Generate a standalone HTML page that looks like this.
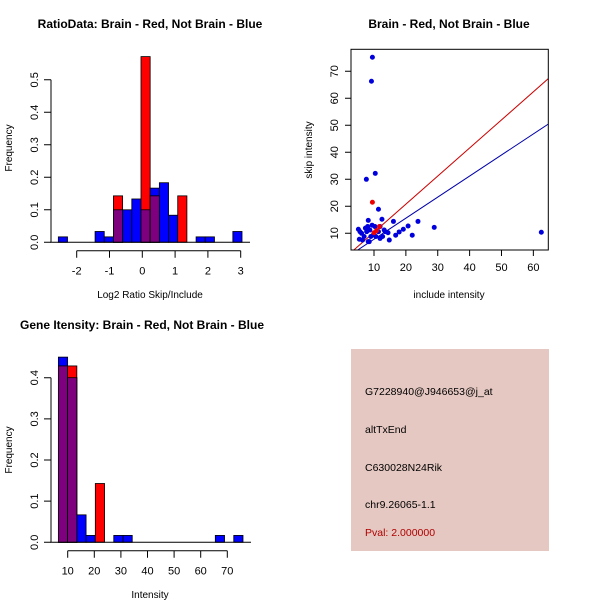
<!DOCTYPE html>
<html><head><meta charset="utf-8"><style>
body{margin:0;background:#fff}
svg{display:block;font-family:"Liberation Sans",Arial,sans-serif}
</style></head><body>
<svg id="s" width="600" height="600" viewBox="0 0 600 600" xmlns="http://www.w3.org/2000/svg">
<rect width="600" height="600" fill="#fff"/>
<g id="p1">
<text x="150" y="28" text-anchor="middle" font-weight="bold" font-size="12">RatioData: Brain - Red, Not Brain - Blue</text>
<text x="150" y="298" text-anchor="middle" font-size="10">Log2 Ratio Skip/Include</text>
<text transform="translate(12,148) rotate(-90)" text-anchor="middle" font-size="10">Frequency</text>
</g>
<g id="p2">
<text x="449" y="28" text-anchor="middle" font-weight="bold" font-size="12">Brain - Red, Not Brain - Blue</text>
<text x="449" y="298" text-anchor="middle" font-size="10">include intensity</text>
<text transform="translate(312,150) rotate(-90)" text-anchor="middle" font-size="10">skip intensity</text>
</g>
<g id="p3">
<text x="142" y="329" text-anchor="middle" font-weight="bold" font-size="12">Gene Itensity: Brain - Red, Not Brain - Blue</text>
<text x="150" y="598" text-anchor="middle" font-size="10">Intensity</text>
<text transform="translate(12,450) rotate(-90)" text-anchor="middle" font-size="10">Frequency</text>
</g>
<g>
<rect x="351" y="349" width="198" height="202" fill="#E5C8C1"/>
<text x="365" y="395" font-size="10.5">G7228940@J946653@j_at</text>
<text x="365" y="433" font-size="10.5">altTxEnd</text>
<text x="365" y="471" font-size="10.5">C630028N24Rik</text>
<text x="365" y="508" font-size="10.5">chr9.26065-1.1</text>
<text x="365" y="536" font-size="10.5" fill="#B00000">Pval: 2.000000</text>
</g>
</svg>
<script>
// Ratio histogram data
const ratioStart = -2.56;
const ratioWidth = 0.28;
const ratioBlue = [0.0167,0,0,0,0.0333,0.0167,0.1,0.1,0.1333,0.1,0.1667,0.1833,0.0833,0,0,0.0167,0.0167,0,0,0.0333];
const ratioRed = [0,0,0,0,0,0,0.1429,0,0,0.5714,0.1429,0,0,0.1429,0,0,0,0,0,0];
const ratioXTicks = [-2,-1,0,1,2,3];
const ratioYTicks = [0,0.1,0.2,0.3,0.4,0.5];
// Intensity histogram data
const intStart = 6.5;
const intWidth = 3.47;
const intBlue = [0.45,0.4,0.0667,0.0167,0,0,0.0167,0.0167,0,0,0,0,0,0,0,0,0,0.0167,0,0.0167];
const intRed = [0.4286,0.4286,0,0,0.1429,0,0,0,0,0,0,0,0,0,0,0,0,0,0,0];
const intXTicks = [10,20,30,40,50,60,70];
const intYTicks = [0,0.1,0.2,0.3,0.4];
// Scatter data
const blueX = [9.5,9.2,7.6,10.4,11.4,8.2,12.5,16.1,23.8,28.9,20.7,22,19.2,17.9,16.8,14.8,14.4,13.2,11.9,9.4,62.5,5.1,5.4,6.1,6.9,7.7,8.2,8.7,9,9.8,10.6,11.4,11.9,12.7,13.5,5.6,6.4,7.3,8,8.5,10.3];
const blueY = [75.2,66.3,30,32.2,18.9,14.8,15.2,14.4,14.4,12.2,12.7,9.3,11.5,10.5,9.3,7.5,10.2,11.2,12.5,13,10.4,11.5,7.8,10,8.8,10.6,6.9,11.2,8.8,9.4,8.8,10.6,8.1,8.8,10.6,10.6,7.5,11.9,12.5,6.9,12.5];
const redX = [9.5,10,11.7,10.8];
const redY = [21.5,10.2,12.5,11];
const redSlope = 1.04;
const blueSlope = 0.78;
const scXTicks = [10,20,30,40,50,60];
const scYTicks = [10,20,30,40,50,60,70];

const NS="http://www.w3.org/2000/svg";
function mk(parent,tag,attrs){const e=document.createElementNS(NS,tag);for(const k in attrs)e.setAttribute(k,attrs[k]);parent.appendChild(e);return e;}

function hist(gid,start,width,blue,red,xs,ys,xTicks,yTicks,yBase,yAxisTop){
  const g=document.getElementById(gid);
  for(let i=0;i<blue.length;i++){
    const x0=xs(start+i*width),x1=xs(start+(i+1)*width);
    const b=blue[i],r=red[i],m=Math.min(b,r);
    if(b>0){const e=mk(g,'rect',{x:x0,y:ys(b),width:x1-x0,height:ys(0)-ys(b),fill:'#0000FF',stroke:'#000','stroke-width':0.8});
      
      }
    if(r>0){const e=mk(g,'rect',{x:x0,y:ys(r),width:x1-x0,height:ys(0)-ys(r),fill:'#FF0000',stroke:'#000','stroke-width':0.8});
      
      }
    if(m>0){const e=mk(g,'rect',{x:x0,y:ys(m),width:x1-x0,height:ys(0)-ys(m),fill:'#7F007F',stroke:'#000','stroke-width':0.8});
      
      }
  }
  const x0=xs(start),x1=xs(start+blue.length*width);
  const base=mk(g,'line',{x1:x0-8,x2:x1+8,y1:ys(0),y2:ys(0),stroke:'#000','stroke-width':1});
  
  
  const ax=xs(xTicks[0]),axe=xs(xTicks[xTicks.length-1]),ay=yBase;
  const xa=mk(g,'path',{d:`M${ax},${ay}H${axe}`+xTicks.map(t=>`M${xs(t)},${ay}v7`).join(''),stroke:'#000',fill:'none'});
  
  
  xTicks.forEach(t=>{const e=mk(g,'text',{x:xs(t),y:ay+24,'text-anchor':'middle','font-size':11});e.textContent=t;
    
    });
  const yx=51;
  const ya=mk(g,'path',{d:`M${yx},${ys(yTicks[0])}V${ys(yTicks[yTicks.length-1])}`+yTicks.map(t=>`M${yx},${ys(t)}h-7`).join(''),stroke:'#000',fill:'none'});
  
  
  yTicks.forEach(t=>{const e=mk(g,'text',{transform:`translate(${yx-13},${ys(t)}) rotate(-90)`,'text-anchor':'middle','font-size':11});e.textContent=t.toFixed(1);
    
    });
}
// plot 1
hist('p1',ratioStart,ratioWidth,ratioBlue,ratioRed,v=>142.3+v*32.8,v=>242.3-v*325,ratioXTicks,ratioYTicks,250.7);
// plot 3
hist('p3',intStart,intWidth,intBlue,intRed,v=>67.7+(v-10)*2.66,v=>542.3-v*411.5,intXTicks,intYTicks,550.7);

// scatter
(function(){
  const g=document.getElementById('p2');
  const L=351,R=548.3,T=49.3,B=250;
  const xs=v=>374+(v-10)*3.187, ys=v=>233.3-(v-10)*2.7;
  const cp=mk(g,'clipPath',{id:'cp'});mk(cp,'rect',{x:L,y:T,width:R-L,height:B-T});
  const lg=mk(g,'g',{'clip-path':'url(#cp)'});
  const xa=-5,xb=70;
  const rl=mk(lg,'line',{x1:xs(xa),y1:ys(xa*redSlope),x2:xs(xb),y2:ys(xb*redSlope),stroke:'#CC0000','stroke-width':1});
  
  
  const bl=mk(lg,'line',{x1:xs(xa),y1:ys(xa*blueSlope),x2:xs(xb),y2:ys(xb*blueSlope),stroke:'#0000AA','stroke-width':1});
  
  
  blueX.forEach((x,i)=>{const c=mk(lg,'circle',{cx:xs(x),cy:ys(blueY[i]),r:2.5,fill:'#0000DD'});
    
    });
  redX.forEach((x,i)=>{const c=mk(lg,'circle',{cx:xs(x),cy:ys(redY[i]),r:2.5,fill:'#EE0000'});
    
    });
  const box=mk(g,'rect',{x:L,y:T,width:R-L,height:B-T,fill:'none',stroke:'#000'});
  
  
  const xp=mk(g,'path',{d:scXTicks.map(t=>`M${xs(t)},${B}v6`).join(''),stroke:'#000'});
  
  
  scXTicks.forEach(t=>{const e=mk(g,'text',{x:xs(t),y:B+21,'text-anchor':'middle','font-size':11});e.textContent=t;
    
    });
  const yp=mk(g,'path',{d:scYTicks.map(t=>`M${L},${ys(t)}h-6`).join(''),stroke:'#000'});
  
  
  scYTicks.forEach(t=>{const e=mk(g,'text',{transform:`translate(${L-13},${ys(t)}) rotate(-90)`,'text-anchor':'middle','font-size':11});e.textContent=t;
    
    });
})();
</script>
</body></html>
